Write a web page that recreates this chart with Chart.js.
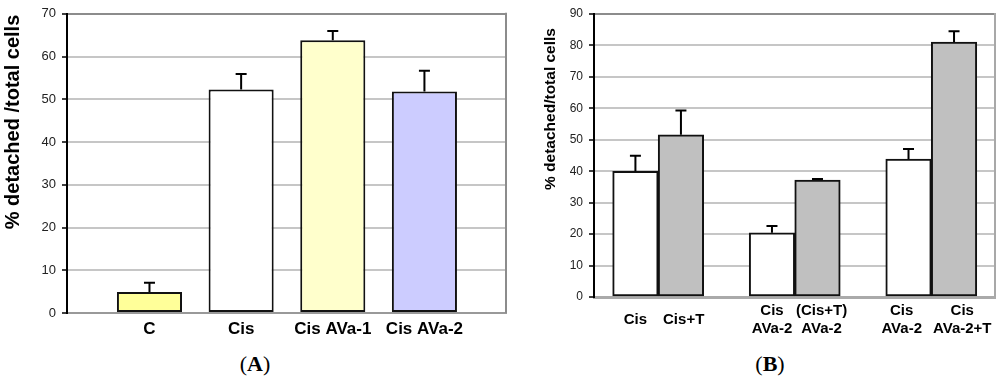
<!DOCTYPE html>
<html>
<head>
<meta charset="utf-8">
<script src="https://cdn.jsdelivr.net/npm/chart.js@4"></script>
<style>
  html, body { margin: 0; padding: 0; background: #fff; }
  body { width: 1000px; height: 380px; position: relative; overflow: hidden; }
  canvas { position: absolute; top: 0; }
  #leftChart { left: 0; }
  #rightChart { left: 510px; }
  .panel { position: absolute; top: 351px; width: 80px; margin-left: -40px; text-align: center;
           font: 22px "Liberation Serif", serif; color: #000; }
</style>
</head>
<body>
<canvas id="leftChart" width="510" height="345"></canvas>
<canvas id="rightChart" width="490" height="340"></canvas>
<div class="panel" style="left:255px">(<b>A</b>)</div>
<div class="panel" style="left:770px">(<b>B</b>)</div>
<script>
// panel A
const leftCats = ['C', 'Cis', 'Cis AVa-1', 'Cis AVa-2'];
const leftVals = [4.9, 52.3, 63.8, 51.8];
const leftErr = [2.2, 3.6, 2.2, 4.9];
const leftTicks = [0, 10, 20, 30, 40, 50, 60, 70];

// panel B
const rightCats = [['Cis'], ['Cis+T'], ['Cis', 'AVa-2'], ['(Cis+T)', 'AVa-2'], ['Cis', 'AVa-2'], ['Cis', 'AVa-2+T']];
const noT = [40.0, 20.4, 43.9];
const noTErr = [4.9, 2.2, 3.2];
const withT = [51.6, 37.2, 81.1];
const withTErr = [7.7, 0.3, 3.4];
const rightTicks = [0, 10, 20, 30, 40, 50, 60, 70, 80, 90];

const leftColors = ['#ffff99', '#ffffff', '#ffffcc', '#ccccff'];
// labels in panel B are not exactly centred under their bars (in bar widths)
const rightLabelNudge = [0, 0.06, 0, 0.09, -0.15, 0.18];
const FONT = '"Liberation Sans", Arial, sans-serif';

// error bars + right frame + rotated y title
const extras = {
    id: 'extras',
    afterDatasetsDraw(chart, args, opts) {
        const ctx = chart.ctx;
        const y = chart.scales.y;
        const area = chart.chartArea;
        ctx.save();
        // frame on the right
        ctx.strokeStyle = opts.frameColor;
        ctx.lineWidth = 2;
        ctx.beginPath();
        ctx.moveTo(area.right, area.top - 1);
        ctx.lineTo(area.right, area.bottom);
        ctx.stroke();
        // error bars
        ctx.strokeStyle = '#000';
        ctx.lineWidth = 2;
        chart.data.datasets.forEach((ds, i) => {
            const meta = chart.getDatasetMeta(i);
            meta.data.forEach((bar, j) => {
                const v = ds.data[j].y;
                const top = y.getPixelForValue(v + ds.errors[j]);
                ctx.beginPath();
                ctx.moveTo(bar.x, bar.y);
                ctx.lineTo(bar.x, top);
                ctx.moveTo(bar.x - 5.5, top);
                ctx.lineTo(bar.x + 5.5, top);
                ctx.stroke();
            });
        });
        // y title
        ctx.fillStyle = '#000';
        ctx.font = opts.titleFont;
        ctx.textAlign = 'center';
        ctx.textBaseline = 'middle';
        ctx.translate(opts.titleX, opts.titleY);
        ctx.rotate(-Math.PI / 2);
        ctx.fillText(opts.title, 0, 0);
        ctx.restore();
    }
};

function yAxis(ticks, fontSize, width) {
    return {
        min: ticks[0],
        max: ticks[ticks.length - 1],
        afterFit: s => { s.width = width; },
        afterBuildTicks: s => { s.ticks = ticks.map(v => ({ value: v })); },
        border: { color: '#000', width: 2 },
        grid: {
            color: c => c.tick && c.tick.value === ticks[ticks.length - 1] ? '#8c8c8c' : '#c6c6c6',
            lineWidth: 2,
            tickColor: '#000',
            tickLength: 5,
            tickWidth: 1.5
        },
        ticks: { color: '#222', padding: 6, font: { family: FONT, size: fontSize } }
    };
}

// fix the x axis height and stop edge labels from squeezing the plot
const fixX = h => s => { s.height = h; s.paddingLeft = 0; s.paddingRight = 0; };

// Panel A
new Chart(document.getElementById('leftChart'), {
    type: 'bar',
    data: {
        datasets: [{
            data: leftVals.map((v, i) => ({ x: i, y: v })),
            errors: leftErr,
            backgroundColor: leftColors,
            borderColor: '#111',
            borderWidth: 2,
            borderSkipped: false,
            categoryPercentage: 1,
            barPercentage: 0.71
        }]
    },
    options: {
        responsive: false,
        animation: false,
        layout: { padding: { top: 12, right: 4, left: 0, bottom: 0 } },
        plugins: {
            legend: { display: false },
            tooltip: { enabled: false },
            extras: {
                frameColor: '#8c8c8c',
                title: '% detached /total cells',
                titleFont: 'bold 20px ' + FONT,
                titleX: 13.5,
                titleY: 122
            }
        },
        scales: {
            x: {
                type: 'linear',
                offset: false,
                min: -0.9,
                max: 3.89,
                afterFit: fixX(32),
                afterBuildTicks: s => { s.ticks = leftCats.map((c, i) => ({ value: i })); },
                grid: { display: false, drawTicks: false, offset: false },
                border: { color: '#999', width: 2 },
                ticks: {
                    padding: 6,
                    color: '#000',
                    font: { family: FONT, size: 17, weight: 'bold' },
                    callback: v => leftCats[v]
                }
            },
            y: yAxis(leftTicks, 13, 67)
        }
    },
    plugins: [extras]
});

// Panel B: bars sit at group*3 + series, leaving a one-bar gap between groups
const barPos = k => Math.floor(k / 2) * 3 + (k % 2);
const rightPos = s => noT.map((v, g) => g * 3 + s);
new Chart(document.getElementById('rightChart'), {
    type: 'bar',
    data: {
        datasets: [{
            data: noT.map((v, g) => ({ x: rightPos(0)[g], y: v })),
            errors: noTErr,
            backgroundColor: '#ffffff'
        }, {
            data: withT.map((v, g) => ({ x: rightPos(1)[g], y: v })),
            errors: withTErr,
            backgroundColor: '#c0c0c0'
        }]
    },
    options: {
        responsive: false,
        animation: false,
        datasets: {
            bar: {
                grouped: false,
                borderColor: '#111',
                borderWidth: 2,
                borderSkipped: false,
                categoryPercentage: 1,
                barPercentage: 1
            }
        },
        layout: { padding: { top: 14, right: 5, left: 0, bottom: 0 } },
        plugins: {
            legend: { display: false },
            tooltip: { enabled: false },
            extras: {
                frameColor: '#a8a8a8',
                title: '% detached/total cells',
                titleFont: 'bold 15.5px ' + FONT,
                titleX: 40.7,
                titleY: 109
            }
        },
        scales: {
            x: {
                type: 'linear',
                offset: false,
                min: -0.91,
                max: 7.9,
                afterFit: fixX(43),
                afterBuildTicks: s => {
                    s.ticks = rightCats.map((c, k) => ({ value: barPos(k) + rightLabelNudge[k] }));
                },
                grid: { display: false, drawTicks: false, offset: false },
                border: { color: '#aaa', width: 3 },
                ticks: {
                    padding: 14,
                    crossAlign: 'center',
                    color: '#000',
                    font: { family: FONT, size: 15, weight: 'bold' },
                    callback: (v, i) => rightCats[i]
                }
            },
            y: yAxis(rightTicks, 12, 84)
        }
    },
    plugins: [extras]
});
</script>
</body>
</html>
